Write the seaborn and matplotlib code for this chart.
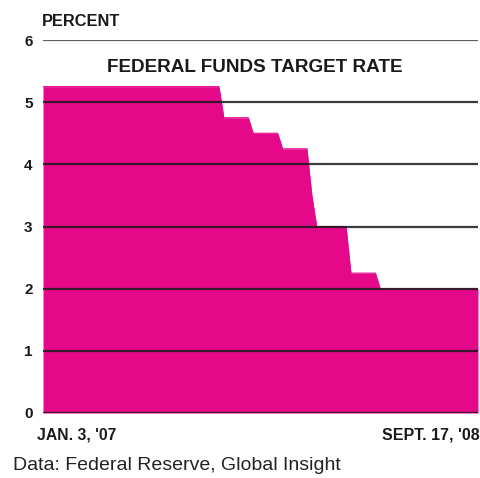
import matplotlib
matplotlib.use("Agg")
import matplotlib.pyplot as plt
import seaborn as sns
import pandas as pd

# Federal funds target rate, weekly (Wednesday) readings at each turn of the series (%)
week_dates = ["2007-01-03", "2007-09-12", "2007-09-19", "2007-10-24",
              "2007-10-31", "2007-12-05", "2007-12-12", "2008-01-16",
              "2008-01-23", "2008-01-30", "2008-03-12", "2008-03-19",
              "2008-04-23", "2008-04-30", "2008-09-17"]
target_rate = [5.25, 5.25, 4.75, 4.75,
               4.50, 4.50, 4.25, 4.25,
               3.50, 3.00, 3.00, 2.25,
               2.25, 2.00, 2.00]

y_ticks = [0, 1, 2, 3, 4, 5, 6]
x_labels = ["JAN. 3, '07", "SEPT. 17, '08"]

MAGENTA = "#E5098A"
INK = "#1a1a1a"

df = pd.DataFrame({"date": pd.to_datetime(week_dates), "rate": target_rate})

sns.set_theme(style="white")
plt.rcParams["font.family"] = ["Liberation Sans", "DejaVu Sans"]

fig = plt.figure(figsize=(4.81, 4.78), dpi=100)
ax = fig.add_axes([43 / 481, 1 - 413 / 478, 435 / 481, 373 / 478])

sns.lineplot(data=df, x="date", y="rate", color=MAGENTA, linewidth=0.8,
             ax=ax, zorder=2)
ax.fill_between(df["date"], df["rate"], 0, color=MAGENTA, linewidth=0,
                zorder=1)

for v in y_ticks:
    ax.axhline(v, color=INK if v < 6 else "#444444", linewidth=1.6,
               alpha=0.85, zorder=3)

ax.set_xlim(df["date"].iloc[0], df["date"].iloc[-1])
ax.set_ylim(0, 6)
ax.set_yticks(y_ticks)
ax.set_yticklabels([str(v) for v in y_ticks], fontsize=11,
                   fontweight="bold", color=INK)
ax.tick_params(axis="y", length=0, pad=7.5)
ax.set_xticks([])
ax.set_xlabel("")
ax.set_ylabel("")
for s in ax.spines.values():
    s.set_visible(False)

fig.text(42 / 481, 1 - 22 / 478, "PERCENT", fontsize=11.8, fontweight="bold",
         color=INK, ha="left", va="center")
fig.text(255 / 481, 1 - 67 / 478, "FEDERAL FUNDS TARGET RATE", fontsize=13.6,
         fontweight="bold", color=INK, ha="center", va="center")

fig.text(37 / 481, 1 - 435 / 478, x_labels[0], fontsize=11.3,
         fontweight="bold", color=INK, ha="left", va="center")
fig.text(480 / 481, 1 - 435 / 478, x_labels[1], fontsize=11.5,
         fontweight="bold", color=INK, ha="right", va="center")

fig.text(13 / 481, 1 - 466 / 478, "Data: Federal Reserve, Global Insight",
         fontsize=14, color="#222222", ha="left", va="center")

fig.savefig("out.png", dpi=100)
